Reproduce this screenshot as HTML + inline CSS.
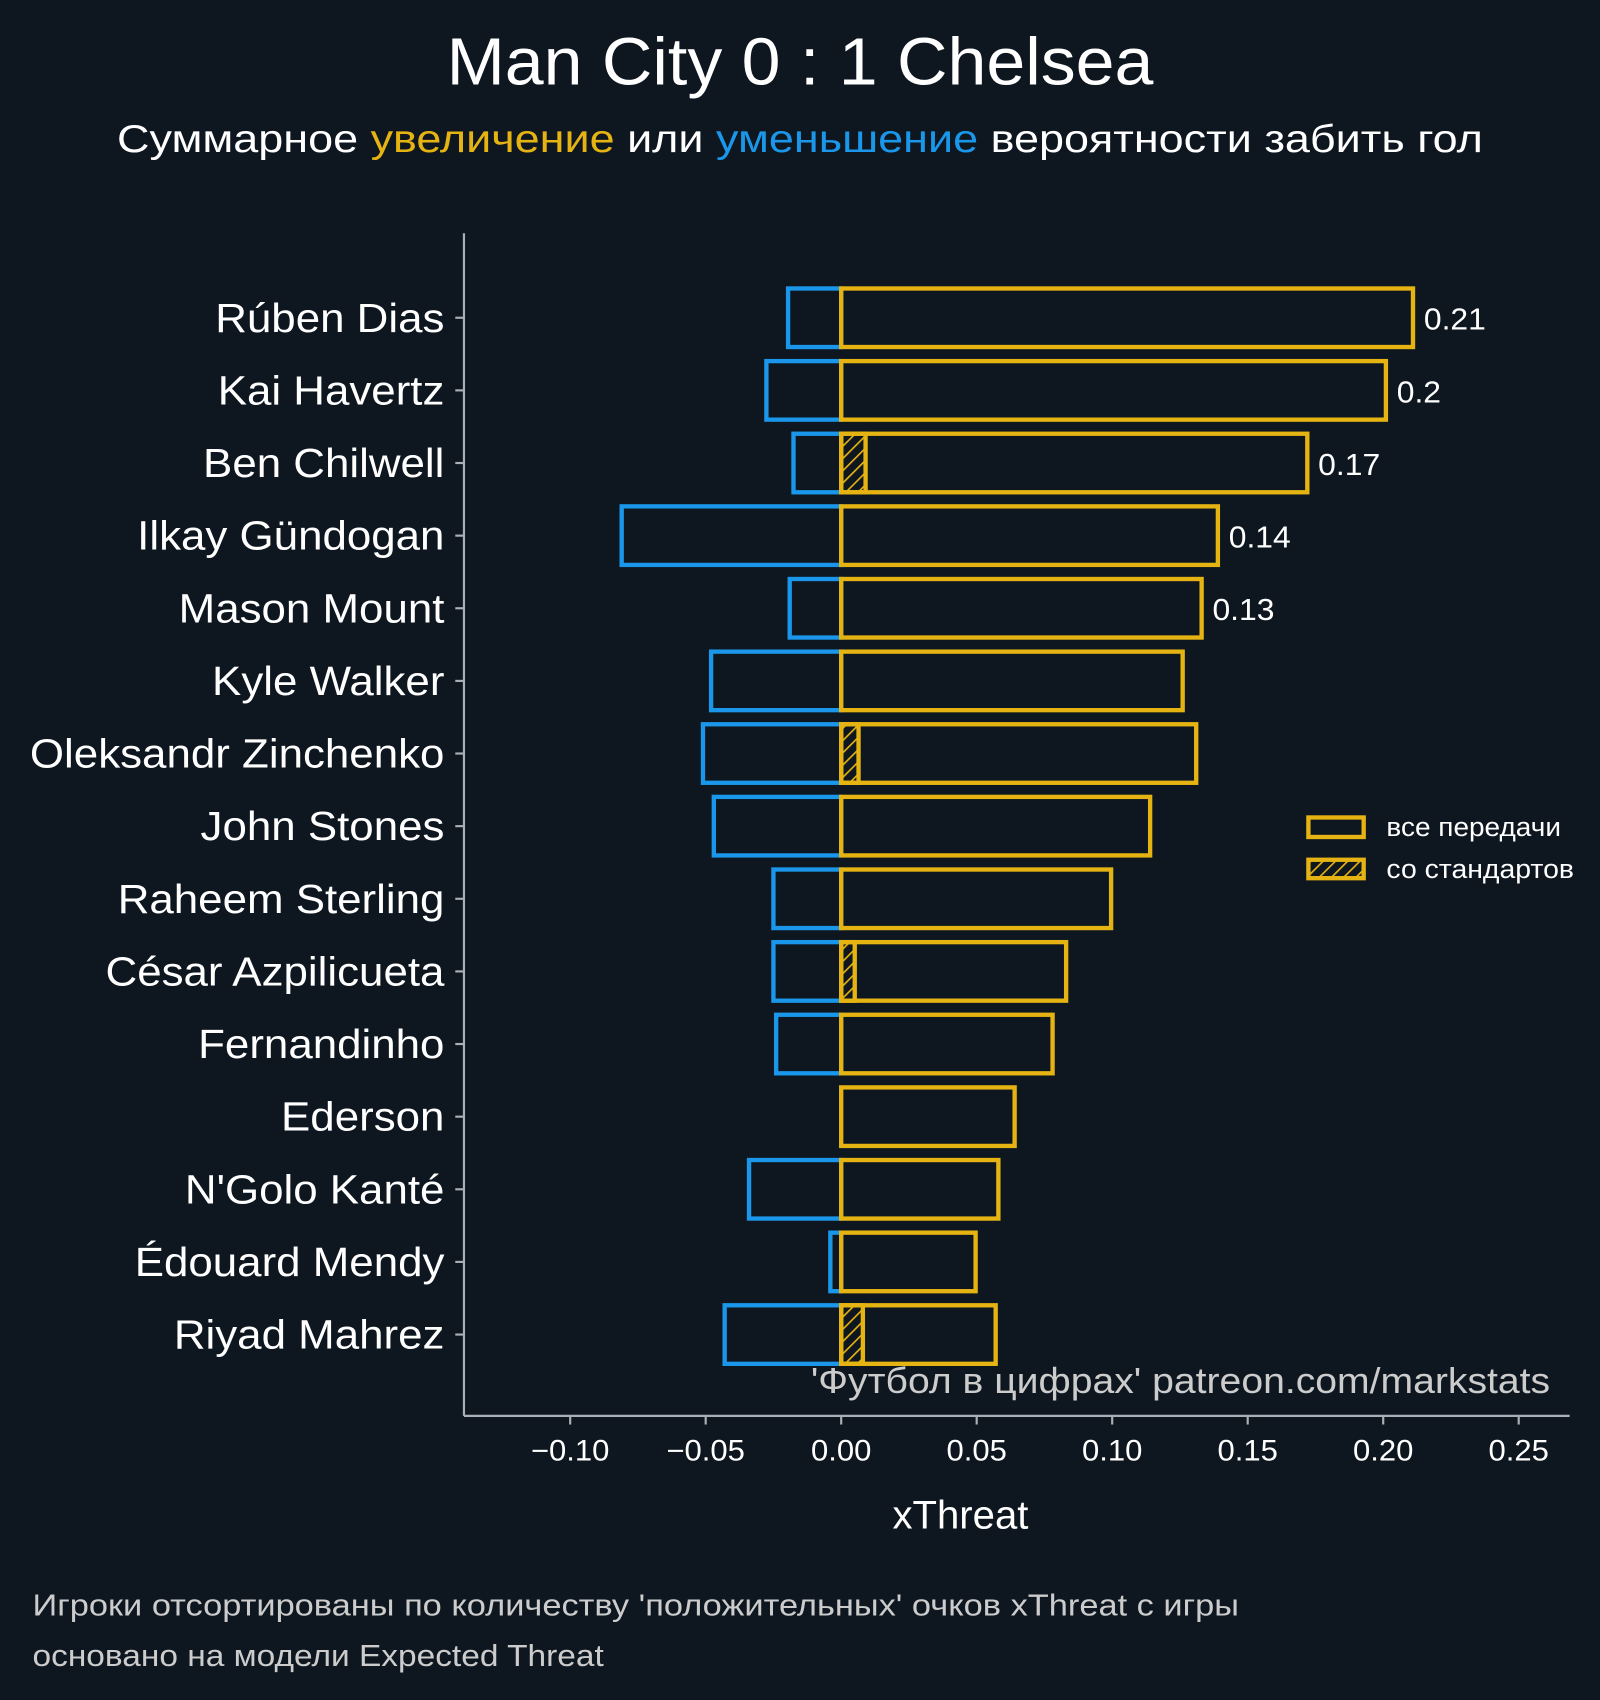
<!DOCTYPE html>
<html><head><meta charset="utf-8">
<style>
html,body{margin:0;padding:0;background:#0e1720;}
svg{display:block;}
text{font-family:"Liberation Sans",sans-serif;}
</style></head>
<body>
<svg id="chart" width="1600" height="1700" viewBox="0 0 1476 1568" xmlns="http://www.w3.org/2000/svg">
<defs>
<pattern id="hatch" patternUnits="userSpaceOnUse" width="8" height="8" patternTransform="rotate(45)">
<line x1="0" y1="0" x2="0" y2="8" stroke="#e6b412" stroke-width="3"/>
</pattern>
</defs>
<rect width="1476" height="1568" fill="#0e1720"/>
<text x="412" y="78" textLength="652" lengthAdjust="spacingAndGlyphs" font-size="62" fill="#ffffff">Man City 0 : 1 Chelsea</text>
<text x="108" y="140" textLength="1260" lengthAdjust="spacingAndGlyphs" font-size="36" fill="#ffffff">Суммарное <tspan fill="#e6b412">увеличение</tspan> или <tspan fill="#1a97ea">уменьшение</tspan> вероятности забить гол</text>
<g id="plot"></g>
<text x="748" y="1285" textLength="682" lengthAdjust="spacingAndGlyphs" font-size="33" fill="#cccccc">'Футбол в цифрах' patreon.com/markstats</text>
<text x="886" y="1410" text-anchor="middle" font-size="37" fill="#ffffff">xThreat</text>
<rect x="1207" y="754" width="51" height="18" fill="none" stroke="#e6b412" stroke-width="4"/>
<text x="1279" y="771" textLength="161" lengthAdjust="spacingAndGlyphs" font-size="24" fill="#ffffff">все передачи</text>
<rect x="1207" y="793" width="51" height="17" fill="url(#hatch)" stroke="#e6b412" stroke-width="4"/>
<text x="1279" y="810" textLength="173" lengthAdjust="spacingAndGlyphs" font-size="24" fill="#ffffff">со стандартов</text>
<text x="30" y="1490" textLength="1113" lengthAdjust="spacingAndGlyphs" font-size="28" fill="#cccccc">Игроки отсортированы по количеству 'положительных' очков xThreat с игры</text>
<text x="30" y="1537" textLength="527" lengthAdjust="spacingAndGlyphs" font-size="28" fill="#cccccc">основано на модели Expected Threat</text>
</svg>
<script>
const players = ["Rúben Dias","Kai Havertz","Ben Chilwell","Ilkay Gündogan","Mason Mount","Kyle Walker","Oleksandr Zinchenko","John Stones","Raheem Sterling","César Azpilicueta","Fernandinho","Ederson","N'Golo Kanté","Édouard Mendy","Riyad Mahrez"];
const positiveValues = [0.211,0.201,0.172,0.139,0.133,0.126,0.131,0.114,0.0996,0.083,0.078,0.064,0.058,0.0496,0.057];
const negativeValues = [-0.0196,-0.0276,-0.0176,-0.081,-0.019,-0.048,-0.051,-0.047,-0.025,-0.025,-0.024,0,-0.034,-0.004,-0.043];
const setPieceValues = [0,0,0.009,0,0,0,0.0064,0,0,0.005,0,0,0,0,0.008];
const valueLabels = ["0.21","0.2","0.17","0.14","0.13","","","","","","","","","",""];
const xTicks = [-0.10,-0.05,0,0.05,0.10,0.15,0.20,0.25];
const xTickLabels = ["−0.10","−0.05","0.00","0.05","0.10","0.15","0.20","0.25"];

const NS="http://www.w3.org/2000/svg";
const plot=document.getElementById('plot');
const x=v=>776+v*2500;
const y=i=>293+i*67;
const BH=54;
function mk(tag,attrs){const e=document.createElementNS(NS,tag);for(const k in attrs)e.setAttribute(k,attrs[k]);plot.appendChild(e);return e;}
function widen(t,f){const w=t.getComputedTextLength();t.setAttribute('textLength',w*f);t.setAttribute('lengthAdjust','spacingAndGlyphs');}

let s=mk('line',{x1:428,y1:215,x2:428,y2:1306,stroke:'#aab0b5','stroke-width':2});


s=mk('line',{x1:428,y1:1306,x2:1448,y2:1306,stroke:'#aab0b5','stroke-width':2});



xTicks.forEach((t,k)=>{
  const l=mk('line',{x1:x(t),y1:1306,x2:x(t),y2:1314,stroke:'#aab0b5','stroke-width':2});
  
  
  const tx=mk('text',{x:x(t),y:1347,'text-anchor':'middle','font-size':27,fill:'#ffffff'});
  tx.textContent=xTickLabels[k];
  
  
  widen(tx,1.06);
});

players.forEach((p,i)=>{
  const cy=y(i);
  const tk=mk('line',{x1:420,y1:cy,x2:428,y2:cy,stroke:'#aab0b5','stroke-width':2});
  
  
  const lb=mk('text',{x:410,y:cy+13,'text-anchor':'end','font-size':38,fill:'#ffffff'});
  lb.textContent=p;
  
  
  widen(lb,1.065);
  if(negativeValues[i]<0){
    const r=mk('rect',{x:x(negativeValues[i]),y:cy-BH/2,width:x(0)-x(negativeValues[i]),height:BH,fill:'none',stroke:'#1a97ea','stroke-width':4});
    
    
  }
  if(setPieceValues[i]>0){
    const h=mk('rect',{x:x(0),y:cy-BH/2,width:x(setPieceValues[i])-x(0),height:BH,fill:'url(#hatch)',stroke:'#e6b412','stroke-width':4});
    
    
  }
  const r=mk('rect',{x:x(0),y:cy-BH/2,width:x(positiveValues[i])-x(0),height:BH,fill:'none',stroke:'#e6b412','stroke-width':4});
  
  
  if(valueLabels[i]){
    const v=mk('text',{x:x(positiveValues[i])+10,y:cy+11,'font-size':28,fill:'#ffffff'});
    v.textContent=valueLabels[i];
    
    
    widen(v,1.05);
  }
});
</script>
</body></html>
